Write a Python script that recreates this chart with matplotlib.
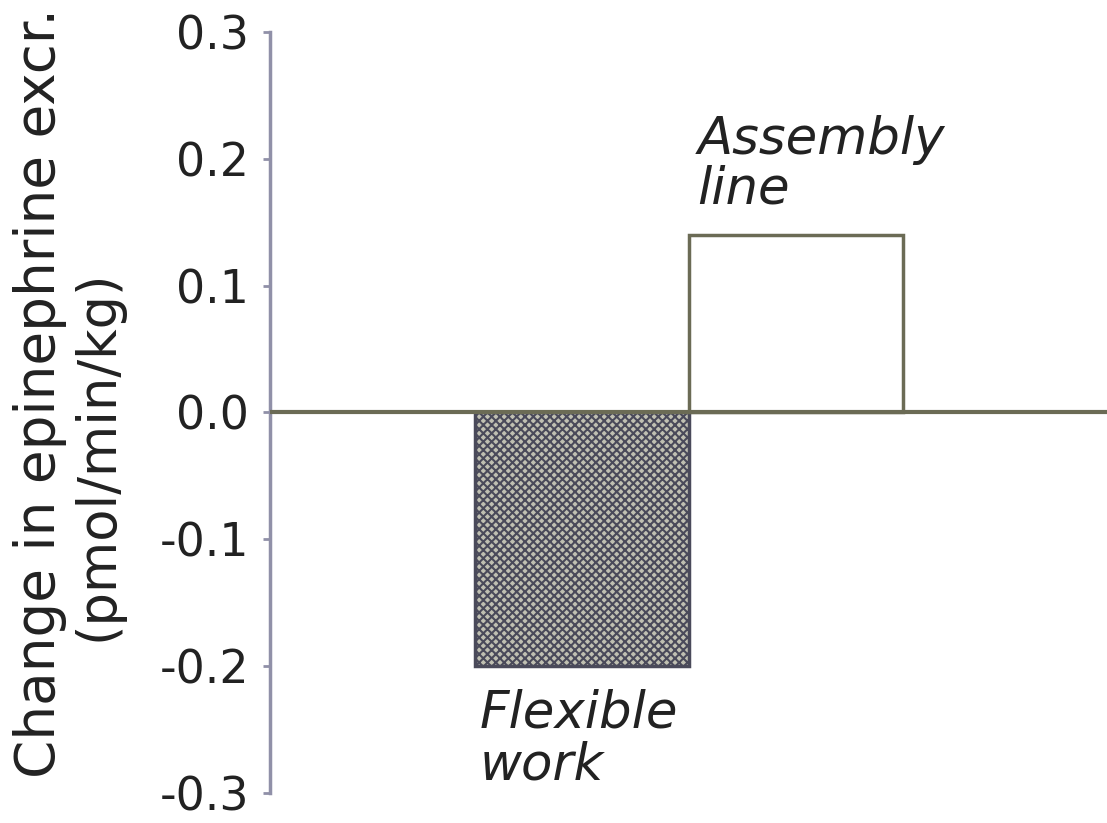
import matplotlib
matplotlib.use("Agg")
import matplotlib.pyplot as plt

plt.rcParams['font.family'] = ['DejaVu Sans']
plt.rcParams['hatch.color'] = '#a0a0c0'
plt.rcParams['hatch.linewidth'] = 1.5

groups = ['Flexible\nwork', 'Assembly\nline']
changes = [-0.2, 0.14]
yticks = [-0.3, -0.2, -0.1, 0.0, 0.1, 0.2, 0.3]
ylabel_lines = ['Change in epinephrine excr.', '(pmol/min/kg)']

fig = plt.figure(figsize=(11.07, 8.23), dpi=100)
ax = fig.add_axes([0.244, 0.037, 0.756, 0.924])

xpos = [0, 1]
ax.bar(xpos[0], changes[0], width=1.0, facecolor='#c0c0b2', edgecolor='#4a4a5a',
       hatch='xxxx', linewidth=2.5, zorder=2)
ax.bar(xpos[1], changes[1], width=1.0, facecolor='white', edgecolor='#6b6b55',
       linewidth=2.5, zorder=2)
ax.axhline(0, color='#6b6b55', linewidth=3, zorder=3)

ax.set_xlim(-1.46, 2.455)
ax.set_ylim(-0.3, 0.3)
ax.set_yticks(yticks)
ax.set_yticklabels([f'{t:.1f}' for t in yticks])
ax.set_xticks([])

for s in ['top', 'right', 'bottom']:
    ax.spines[s].set_visible(False)
ax.spines['left'].set_color('#9090a8')
ax.spines['left'].set_linewidth(2.5)
ax.tick_params(axis='y', length=5, width=2, color='#9090a8', labelsize=33,
               labelcolor='#222222', pad=10)

# bar labels
ax.text(xpos[0] - 0.48, changes[0] - 0.018, groups[0], ha='left', va='top',
        fontsize=37, style='italic', color='#222222', linespacing=1.05)
ax.text(xpos[1] + 0.04 - 0.5, changes[1] + 0.016, groups[1], ha='left', va='bottom',
        fontsize=37, style='italic', color='#222222', linespacing=1.0)

# y label, two lines placed separately as in the original
fig.text(0.036, 0.523, ylabel_lines[0], rotation=90, ha='center', va='center',
         fontsize=39.5, color='#222222')
fig.text(0.088, 0.447, ylabel_lines[1], rotation=90, ha='center', va='center',
         fontsize=38, color='#222222')

fig.savefig('out.png', dpi=100)
